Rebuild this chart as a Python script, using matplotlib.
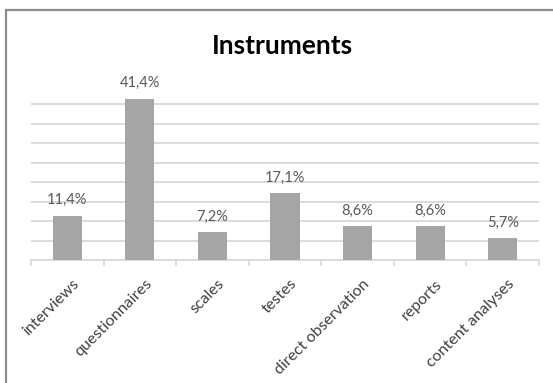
import matplotlib
matplotlib.use("Agg")
import matplotlib.pyplot as plt
import matplotlib.transforms as mtransforms
from matplotlib.patches import Rectangle
import numpy as np

# Data
categories = ["interviews", "questionnaires", "scales", "testes",
              "direct observation", "reports", "content analyses"]
shares = [11.4, 41.4, 7.2, 17.1, 8.6, 8.6, 5.7]
title = "Instruments"

plt.rcParams["font.family"] = ["Lato", "DejaVu Sans"]

W, H = 553, 383
fig = plt.figure(figsize=(W / 100, H / 100), dpi=100)
fig.patch.set_facecolor("white")

# Chart area frame (only top and left edges fall inside the canvas)
fig.patches.append(Rectangle((6 / W, -0.2), 1.5, 0.2 + 1 - 10 / H,
                             transform=fig.transFigure, fill=False,
                             edgecolor="#8c8c8c", linewidth=1.6))

left, right, top, bottom = 31, 539, 84.5, 260
ax = fig.add_axes([left / W, 1 - bottom / H, (right - left) / W, (bottom - top) / H])

x = np.arange(len(categories))
bars = ax.bar(x, shares, width=0.4, color="#a5a5a5", zorder=3)

ax.set_xlim(-0.5, len(categories) - 0.5)
ax.set_ylim(0, 45)
ax.set_yticks(np.arange(5, 46, 5))
ax.yaxis.grid(True, color="#d9d9d9", linewidth=1.3, zorder=0)
ax.tick_params(axis="y", left=False, labelleft=False)

for s in ["top", "right", "left"]:
    ax.spines[s].set_visible(False)
ax.spines["bottom"].set_color("#d9d9d9")
ax.spines["bottom"].set_linewidth(1.3)

# Category boundary tick marks
ax.set_xticks(np.arange(-0.5, len(categories), 1.0), minor=True)
ax.tick_params(axis="x", which="minor", length=4, color="#d9d9d9", width=1.2)
ax.tick_params(axis="x", which="major", length=0, pad=12, labelsize=11.5,
               labelcolor="#404040")
ax.set_xticks(x)
ax.set_xticklabels(categories, rotation=45, ha="right", va="top",
                   rotation_mode="anchor")
shift = mtransforms.ScaledTranslation(5 / 100, 0, fig.dpi_scale_trans)
for lbl in ax.get_xticklabels():
    lbl.set_transform(lbl.get_transform() + shift)

# Value labels
for xi, v in zip(x, shares):
    ax.annotate(f"{v:.1f}".replace(".", ",") + "%", (xi, v),
                xytext=(0, 6), textcoords="offset points",
                ha="center", va="bottom", fontsize=10.5, color="#595959")

fig.text(282 / W, 1 - 54 / H, title, ha="center", va="baseline",
         fontsize=19, fontweight="bold", color="#000000")

fig.savefig("out.png", dpi=100)
